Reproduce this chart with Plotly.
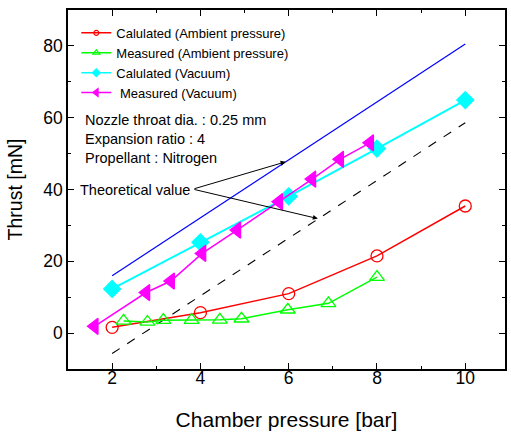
import plotly.graph_objects as go

# Data
calc_amb_x = [2, 4, 6, 8, 10]
calc_amb_y = [1.6, 5.7, 11.0, 21.5, 35.4]

meas_amb_x = [2.26, 2.8, 3.16, 3.8, 4.44, 4.93, 5.98, 6.9, 8.0]
meas_amb_y = [3.4, 3.1, 3.6, 3.6, 3.7, 4.0, 6.5, 8.3, 15.6]

calc_vac_x = [2, 4, 6, 8, 10]
calc_vac_y = [12.3, 25.3, 38.1, 51.4, 64.9]

meas_vac_x = [1.6, 2.77, 3.33, 4.04, 4.83, 5.78, 6.53, 7.16, 7.84]
meas_vac_y = [1.9, 11.3, 14.5, 22.2, 28.7, 36.6, 42.9, 48.4, 53.0]

theo_vac_x = [2, 10]
theo_vac_y = [16.0, 80.5]
theo_amb_x = [2, 10]
theo_amb_y = [-5.7, 58.6]

x_ticks = [2, 4, 6, 8, 10]
y_ticks = [0, 20, 40, 60, 80]

series_names = ["Calulated (Ambient pressure)", "Measured (Ambient pressure)",
                "Calulated (Vacuum)", " Measured (Vacuum)"]
info_lines = ["Nozzle throat dia. : 0.25 mm", "Expansion ratio : 4", "Propellant : Nitrogen"]

FONT = "Liberation Sans, Arial, sans-serif"

fig = go.Figure()

fig.add_trace(go.Scatter(x=theo_vac_x, y=theo_vac_y, mode="lines",
                         line=dict(color="#0000FF", width=1.2), showlegend=False))
fig.add_trace(go.Scatter(x=theo_amb_x, y=theo_amb_y, mode="lines",
                         line=dict(color="black", width=1.1, dash="dash"), showlegend=False))

styles = [
    dict(color="#FF0000", lw=1.5, sym="circle-open", size=12, lsize=5),
    dict(color="#00FF00", lw=1.5, sym="triangle-up-open", size=13, lsize=6),
    dict(color="#00FFFF", lw=2.0, sym="diamond", size=13, lsize=6),
    dict(color="#FF00FF", lw=1.5, sym="triangle-left", size=14, lsize=7),
]
data = [(calc_amb_x, calc_amb_y), (meas_amb_x, meas_amb_y),
        (calc_vac_x, calc_vac_y), (meas_vac_x, meas_vac_y)]

for (xs, ys), st in zip(data, styles):
    fig.add_trace(go.Scatter(x=xs, y=ys, mode="lines+markers", showlegend=False,
                             line=dict(color=st["color"], width=st["lw"]),
                             marker=dict(symbol=st["sym"], size=st["size"], color=st["color"],
                                         line=dict(width=1.3, color=st["color"]))))
# legend entries (smaller symbols, as in the reference)
for name, st in zip(series_names, styles):
    fig.add_trace(go.Scatter(x=[None], y=[None], mode="lines+markers", name=name,
                             line=dict(color=st["color"], width=1.5),
                             marker=dict(symbol=st["sym"], size=st["lsize"], color=st["color"],
                                         line=dict(width=1.2, color=st["color"]))))

axis_common = dict(showline=True, linecolor="black", linewidth=1.5, mirror="ticks",
                   ticks="inside", ticklen=6, tickwidth=1.3, tickcolor="black",
                   showgrid=False, zeroline=False,
                   tickfont=dict(family=FONT, size=17.5, color="black"))

fig.update_xaxes(range=[1, 10.9], tickvals=x_ticks, ticklabelstandoff=-8,
                 minor=dict(dtick=1, tick0=1, ticks="inside", ticklen=3, tickcolor="black", tickwidth=1.2),
                 title=dict(text="Chamber pressure [bar]", font=dict(family=FONT, size=21, color="black"),
                            standoff=26),
                 **axis_common)
fig.update_yaxes(range=[-10, 90], tickvals=y_ticks,
                 minor=dict(dtick=10, tick0=10, ticks="inside", ticklen=3, tickcolor="black", tickwidth=1.2),
                 title=dict(text="Thrust [mN]", font=dict(family=FONT, size=19.5, color="black"),
                            standoff=15),
                 **axis_common)

ann_font = dict(family=FONT, size=14.5, color="black")
for t, yv in zip(info_lines, [59.3, 54.1, 48.9]):
    fig.add_annotation(x=1.33, y=yv, xref="x", yref="y", text=t, showarrow=False,
                       xanchor="left", yanchor="middle", font=ann_font)
fig.add_annotation(x=1.22, y=40.0, xref="x", yref="y", text="Theoretical value", showarrow=False,
                   xanchor="left", yanchor="middle", font=ann_font)
for hx, hy in [(5.93, 47.7), (6.66, 31.9)]:
    fig.add_annotation(x=hx, y=hy, ax=3.83, ay=40.1, xref="x", yref="y", axref="x", ayref="y",
                       text="", showarrow=True, arrowhead=2, arrowsize=1, arrowwidth=1,
                       arrowcolor="black")

fig.update_layout(
    width=511, height=436,
    margin=dict(l=68, r=4, t=10, b=67),
    plot_bgcolor="white", paper_bgcolor="white",
    font=dict(family=FONT, color="black"),
    legend=dict(x=0.019, y=0.978, xanchor="left", yanchor="top",
                bgcolor="rgba(0,0,0,0)", font=dict(family=FONT, size=13, color="black"),
                itemwidth=30, tracegroupgap=0),
)

fig.write_html("out.html")
